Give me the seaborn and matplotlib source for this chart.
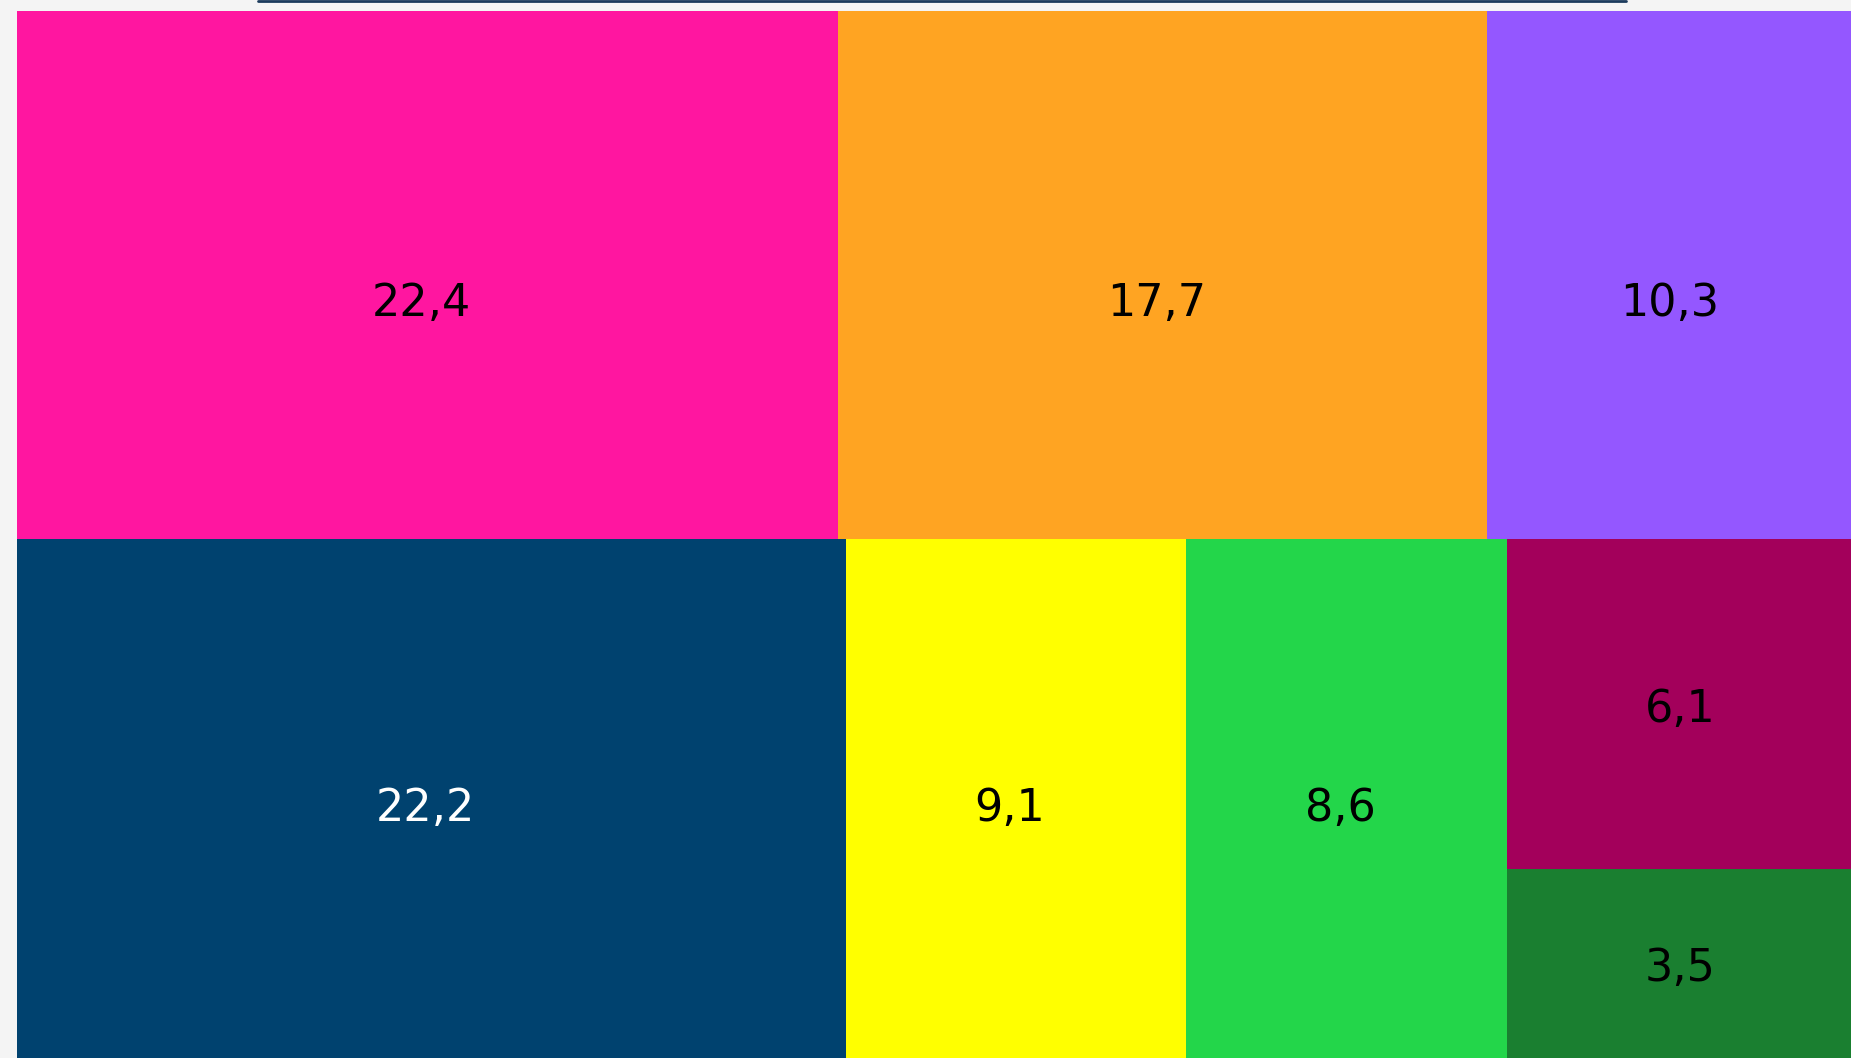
import matplotlib
matplotlib.use("Agg")
import matplotlib.pyplot as plt
from matplotlib.lines import Line2D
import seaborn as sns

# ---- data ----
top_values = [22.4, 17.7, 10.3]
top_colors = ["#FF16A0", "#FFA422", "#9457FF"]
bottom_values = [22.2, 9.1, 8.6]
bottom_colors = ["#00426F", "#FFFF00", "#23D64A"]
stack_values = [6.1, 3.5]
stack_colors = ["#A3005B", "#1A7F30"]
label_colors = {"#00426F": "white"}

sns.set_theme(style="white")
plt.rcParams["font.family"] = ["DejaVu Sans"]

W, H = 1851, 1058
fig = plt.figure(figsize=(W / 100, H / 100), dpi=100, facecolor="#F4F4F4")
# plot area runs slightly past the right edge of the canvas
ax = fig.add_axes([17 / W, 0, 1848 / W, 1047 / H])
ax.set_facecolor("#F4F4F4")

total = sum(top_values) + sum(bottom_values) + sum(stack_values)
top_h = sum(top_values) / total
bot_h = 1 - top_h


def fmt(v):
    return f"{v:.1f}".replace(".", ",")


def cell(x0, y0, w, h, v, c, dy):
    ax.bar(x0, h, width=w, bottom=y0, align="edge", color=c, linewidth=0)
    ax.annotate(fmt(v), (x0 + w / 2, y0 + h / 2), xytext=(-6, -dy),
                textcoords="offset pixels", ha="center", va="center",
                fontsize=32, color=label_colors.get(c, "black"))


# top row
x = 0.0
row_sum = sum(top_values)
for v, c in zip(top_values, top_colors):
    w = v / row_sum
    cell(x, 0, w, top_h, v, c, 28)
    x += w

# bottom row
row_sum = sum(bottom_values) + sum(stack_values)
x = 0.0
for v, c in zip(bottom_values, bottom_colors):
    w = v / row_sum
    cell(x, top_h, w, bot_h, v, c, 10)
    x += w
w = sum(stack_values) / row_sum
y = top_h
for v, c in zip(stack_values, stack_colors):
    h = bot_h * v / sum(stack_values)
    cell(x, y, w, h, v, c, 5)
    y += h

ax.set_xlim(0, 1)
ax.set_ylim(1, 0)
ax.axis("off")

# header rule at the very top
fig.add_artist(Line2D([258 / W, 1626 / W], [1 - 1 / H, 1 - 1 / H],
                      transform=fig.transFigure, color="#1B3A5C", linewidth=2))

fig.savefig("out.png", dpi=100, facecolor="#F4F4F4")
